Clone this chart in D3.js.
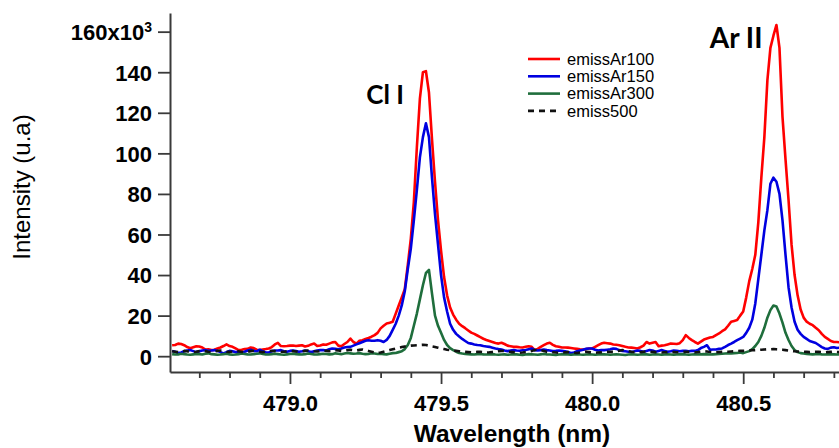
<!DOCTYPE html>
<html>
<head>
<meta charset="utf-8">
<script src="https://cdn.jsdelivr.net/npm/d3@7"></script>
<style>
  html, body { margin: 0; padding: 0; background: #fff; }
  svg { display: block; }
</style>
</head>
<body>
<svg id="chart" width="839" height="448"></svg>
<script>
// Emission spectra around the Cl I 479.45 nm and Ar II 480.60 nm lines.
// Wavelength grid (nm), one sample every 0.01 nm.
const wavelengths = [
  478.61, 478.62, 478.63, 478.64, 478.65, 478.66, 478.67, 478.68, 478.69, 478.70,
  478.71, 478.72, 478.73, 478.74, 478.75, 478.76, 478.77, 478.78, 478.79, 478.80,
  478.81, 478.82, 478.83, 478.84, 478.85, 478.86, 478.87, 478.88, 478.89, 478.90,
  478.91, 478.92, 478.93, 478.94, 478.95, 478.96, 478.97, 478.98, 478.99, 479.00,
  479.01, 479.02, 479.03, 479.04, 479.05, 479.06, 479.07, 479.08, 479.09, 479.10,
  479.11, 479.12, 479.13, 479.14, 479.15, 479.16, 479.17, 479.18, 479.19, 479.20,
  479.21, 479.22, 479.23, 479.24, 479.25, 479.26, 479.27, 479.28, 479.29, 479.30,
  479.31, 479.32, 479.33, 479.34, 479.35, 479.36, 479.37, 479.38, 479.39, 479.40,
  479.41, 479.42, 479.43, 479.44, 479.45, 479.46, 479.47, 479.48, 479.49, 479.50,
  479.51, 479.52, 479.53, 479.54, 479.55, 479.56, 479.57, 479.58, 479.59, 479.60,
  479.61, 479.62, 479.63, 479.64, 479.65, 479.66, 479.67, 479.68, 479.69, 479.70,
  479.71, 479.72, 479.73, 479.74, 479.75, 479.76, 479.77, 479.78, 479.79, 479.80,
  479.81, 479.82, 479.83, 479.84, 479.85, 479.86, 479.87, 479.88, 479.89, 479.90,
  479.91, 479.92, 479.93, 479.94, 479.95, 479.96, 479.97, 479.98, 479.99, 480.00,
  480.01, 480.02, 480.03, 480.04, 480.05, 480.06, 480.07, 480.08, 480.09, 480.10,
  480.11, 480.12, 480.13, 480.14, 480.15, 480.16, 480.17, 480.18, 480.19, 480.20,
  480.21, 480.22, 480.23, 480.24, 480.25, 480.26, 480.27, 480.28, 480.29, 480.30,
  480.31, 480.32, 480.33, 480.34, 480.35, 480.36, 480.37, 480.38, 480.39, 480.40,
  480.41, 480.42, 480.43, 480.44, 480.45, 480.46, 480.47, 480.48, 480.49, 480.50,
  480.51, 480.52, 480.53, 480.54, 480.55, 480.56, 480.57, 480.58, 480.59, 480.60,
  480.61, 480.62, 480.63, 480.64, 480.65, 480.66, 480.67, 480.68, 480.69, 480.70,
  480.71, 480.72, 480.73, 480.74, 480.75, 480.76, 480.77, 480.78, 480.79, 480.80,
  480.81, 480.82
];

// Intensities in thousands of counts (u.a x 10^3).
const emissAr100 = [
  5.4, 5.5, 6.2, 6.0, 5.4, 4.5, 3.9, 4.4, 4.9, 4.8,
  4.3, 3.3, 3.4, 3.0, 3.2, 3.8, 4.3, 5.0, 5.8, 5.0,
  4.6, 3.8, 3.0, 3.2, 3.5, 3.6, 4.3, 4.0, 3.2, 3.0,
  3.3, 3.5, 3.8, 4.5, 5.8, 6.6, 5.0, 4.9, 5.0, 5.2,
  5.3, 5.0, 5.2, 5.4, 4.8, 5.1, 5.8, 6.2, 5.0, 5.3,
  5.8, 5.6, 6.2, 6.8, 7.0, 5.2, 4.9, 6.0, 7.0, 8.7,
  7.0, 6.2, 7.6, 7.9, 8.5, 9.0, 9.6, 10.4, 11.5, 13.7,
  15.0, 16.1, 16.5, 17.0, 21.0, 25.0, 29.0, 33.0, 45.0, 58.0,
  76, 103, 127, 140, 140.5, 130, 107, 86, 67, 52,
  39, 30, 24, 20.5, 18, 16, 14.8, 13.8, 12.7, 11.6,
  11.0, 10.2, 9.4, 8.6, 8.0, 7.5, 7.0, 6.5, 6.2, 6.6,
  6.0, 5.2, 4.9, 4.6, 4.6, 4.4, 4.3, 4.6, 4.9, 4.6,
  3.0, 3.6, 4.6, 5.4, 6.2, 6.6, 5.6, 4.9, 4.6, 4.3,
  4.3, 4.2, 4.0, 3.8, 3.6, 3.4, 3.3, 3.5, 3.8, 3.8,
  4.6, 5.4, 6.2, 6.6, 6.4, 6.2, 5.8, 5.6, 5.4, 5.0,
  4.6, 4.3, 4.2, 4.0, 3.8, 4.4, 5.2, 7.0, 6.2, 6.6,
  7.0, 4.9, 5.2, 5.4, 5.8, 6.2, 6.1, 6.0, 6.4, 7.9,
  10.4, 9.0, 7.9, 7.0, 6.2, 7.2, 8.2, 8.7, 9.2, 9.5,
  10.4, 11.2, 12.3, 13.2, 15.0, 17.0, 17.4, 17.8, 20.0, 22.0,
  29, 37, 43, 50, 66, 88, 108, 136, 152, 158,
  163.3, 152, 118, 97, 77, 55, 40, 30, 23, 19,
  17, 16, 15.3, 14, 12.8, 11, 9.5, 8.5, 7.5, 7,
  7, 6.8
];

const emissAr150 = [
  2.6, 2.2, 1.6, 1.8, 2.4, 2.8, 3.0, 2.5, 2.0, 2.4,
  2.8, 3.0, 2.6, 2.8, 3.0, 2.6, 2.0, 1.4, 2.0, 2.6,
  2.4, 2.0, 2.0, 1.6, 2.2, 2.8, 3.2, 2.6, 2.4, 3.2,
  2.4, 1.8, 1.8, 2.4, 2.8, 2.8, 3.0, 2.4, 2.2, 2.6,
  2.8, 2.5, 2.2, 2.4, 2.8, 2.4, 2.0, 2.4, 2.8, 3.0,
  3.0, 2.8, 3.4, 3.8, 3.6, 3.4, 3.8, 4.3, 4.5, 4.6,
  5.2, 5.8, 6.4, 7.0, 7.6, 7.9, 7.6, 7.6, 7.9, 7.6,
  7.0, 8.0, 10, 13, 16, 20, 25, 32, 43, 53,
  67, 82, 98, 108, 114.8, 108, 88, 70, 55, 40,
  29, 22, 16, 13, 11, 9.7, 8.5, 7.5, 6.5, 6.2,
  5.8, 5.5, 5.4, 5.0, 4.8, 4.6, 4.2, 3.8, 3.5, 3.3,
  2.8, 2.5, 2.8, 3.0, 2.8, 2.7, 2.9, 3.0, 3.4, 3.8,
  3.0, 2.8, 3.0, 3.3, 3.0, 2.8, 2.5, 2.6, 2.8, 2.6,
  2.4, 2.0, 1.6, 1.8, 2.4, 2.8, 3.2, 3.6, 3.8, 3.8,
  3.2, 2.8, 3.0, 3.0, 3.2, 3.4, 3.8, 3.6, 3.0, 2.6,
  2.4, 2.2, 2.1, 2.4, 2.8, 2.6, 2.2, 2.6, 3.0, 2.8,
  2.2, 2.6, 3.0, 2.6, 2.2, 2.4, 2.8, 2.6, 2.4, 2.6,
  2.6, 2.4, 2.6, 2.6, 3.0, 4.0, 4.6, 5.4, 3.2, 3.3,
  3.3, 3.6, 3.8, 4.6, 5.5, 6.2, 7.0, 7.9, 8.7, 9.5,
  11.5, 14, 18, 26, 38, 50, 62, 72, 85, 88,
  86, 80, 67, 50, 34, 24, 17, 13, 11, 9.5,
  8.5, 7.5, 7, 6.5, 5.5, 4.5, 3.8, 3.6, 4.2, 4.4,
  4.0, 4.2
];

const emissAr300 = [
  1.0, 0.8, 0.9, 1.2, 1.0, 0.8, 0.7, 0.9, 1.1, 1.0,
  0.8, 1.2, 1.4, 1.0, 0.9, 0.7, 0.8, 1.0, 1.2, 0.9,
  0.7, 0.8, 1.0, 1.3, 1.1, 0.9, 0.8, 1.0, 1.2, 1.4,
  1.1, 0.9, 0.8, 1.0, 1.2, 1.0, 0.8, 0.7, 0.9, 1.1,
  1.2, 1.0, 0.9, 0.8, 1.0, 1.3, 1.1, 0.9, 0.8, 1.0,
  1.2, 1.1, 0.9, 1.0, 1.4, 1.2, 1.0, 1.3, 1.6, 1.4,
  1.2, 1.3, 1.5, 1.2, 1.0, 1.1, 1.4, 1.3, 1.1, 1.2,
  1.0, 0.9, 1.2, 1.5, 1.6, 2.0, 2.4, 3.5, 5.5, 9.0,
  15, 21, 28, 35, 41, 42.5, 31, 20, 15, 11.5,
  8, 5.5, 4, 3, 2.2, 1.6, 1.3, 1.1, 1.0, 0.9,
  0.8, 1.0, 1.1, 0.9, 0.8, 0.9, 1.0, 0.8, 0.7, 0.8,
  0.9, 0.7, 0.8, 1.0, 0.9, 0.7, 0.6, 0.8, 1.0, 0.9,
  0.8, 0.7, 0.9, 1.1, 0.9, 0.8, 0.7, 0.6, 0.8, 0.9,
  1.0, 0.8, 0.7, 0.9, 1.0, 0.8, 0.7, 0.8, 0.9, 0.8,
  0.7, 0.8, 1.0, 0.9, 0.8, 0.7, 0.8, 0.9, 0.8, 0.7,
  0.6, 0.8, 0.9, 0.8, 0.7, 0.8, 1.0, 0.9, 0.7, 0.8,
  0.9, 0.8, 0.7, 0.8, 0.9, 0.8, 0.7, 0.8, 0.9, 1.0,
  0.8, 0.7, 0.8, 0.9, 0.8, 0.9, 1.0, 0.9, 0.8, 0.9,
  1.0, 1.1, 1.2, 1.3, 1.4, 1.3, 1.5, 1.6, 1.8, 1.5,
  2.0, 2.5, 3.5, 5.0, 7.0, 10, 14, 19, 22.7, 25,
  24.5, 21, 16.5, 11.5, 8, 5, 3, 2, 1.5, 1.3,
  1.1, 1.0, 0.9, 1.0, 1.1, 0.9, 0.8, 0.9, 1.0, 0.9,
  0.8, 0.9
];

const emiss500 = [
  2.4, 2.2, 2.0, 2.3, 2.6, 2.4, 2.1, 2.0, 2.2, 2.5,
  2.7, 2.5, 2.2, 2.0, 2.3, 2.6, 2.8, 2.5, 2.2, 2.1,
  2.3, 2.6, 2.4, 2.1, 2.0, 2.2, 2.5, 2.7, 2.4, 2.2,
  2.0, 2.2, 2.5, 2.7, 2.5, 2.3, 2.1, 2.2, 2.4, 2.6,
  2.5, 2.3, 2.2, 2.4, 2.6, 2.8, 2.6, 2.4, 2.3, 2.5,
  2.7, 2.6, 2.5, 2.8, 3.0, 2.8, 2.6, 2.8, 3.0, 3.2,
  3.0, 2.8, 3.1, 3.3, 3.0, 2.6, 2.2, 1.8, 1.6, 1.8,
  2.2, 2.6, 3.0, 3.4, 3.8, 4.2, 4.5, 4.8, 5.0, 5.2,
  5.3, 5.4, 5.5, 5.6, 5.5, 5.2, 4.8, 4.5, 4.2, 3.8,
  3.5, 3.2, 3.0, 2.8, 2.6, 2.4, 2.2, 2.1, 2.0, 1.9,
  2.0, 2.1, 2.2, 2.0, 1.8, 1.9, 2.1, 2.3, 2.5, 2.6,
  2.5, 2.3, 2.1, 2.0, 1.8, 1.7, 1.8, 2.0, 2.2, 2.6,
  3.0, 3.3, 3.0, 2.6, 2.2, 2.0, 1.9, 1.8, 1.7, 1.8,
  1.9, 2.0, 1.8, 1.7, 1.6, 1.8, 2.0, 2.2, 2.0, 1.8,
  1.7, 1.8, 1.9, 2.0, 2.1, 2.2, 2.1, 2.4, 2.7, 3.0,
  2.8, 2.5, 2.2, 2.0, 1.9, 2.0, 2.2, 2.4, 2.3, 2.1,
  2.0, 1.9, 1.8, 1.9, 2.0, 2.1, 2.0, 1.9, 2.0, 2.1,
  2.2, 2.1, 2.0, 1.9, 2.0, 2.2, 2.4, 2.3, 2.1, 2.0,
  1.9, 2.0, 2.1, 2.2, 2.2, 2.3, 2.4, 2.5, 2.6, 2.6,
  2.7, 2.8, 2.9, 3.0, 3.1, 3.2, 3.3, 3.4, 3.4, 3.5,
  3.4, 3.3, 3.2, 3.0, 2.8, 2.6, 2.4, 2.3, 2.2, 2.2,
  2.1, 2.0, 2.1, 2.2, 2.1, 2.0, 1.9, 2.0, 2.1, 2.2,
  2.1, 2.0
];

const seriesNames = ["emissAr100", "emissAr150", "emissAr300", "emiss500"];
const seriesValues = [emissAr100, emissAr150, emissAr300, emiss500];
const seriesColors = ["#ff0000", "#0000e0", "#1f6e3c", "#111111"];
const seriesDash = [null, null, null, "6,5"];

const yTicks = [0, 20, 40, 60, 80, 100, 120, 140, 160];
const xMajorTicks = [479.0, 479.5, 480.0, 480.5];
const xMinorTicks = [478.7, 478.8, 478.9, 479.1, 479.2, 479.3, 479.4, 479.6, 479.7,
                     479.8, 479.9, 480.1, 480.2, 480.3, 480.4, 480.6, 480.7, 480.8];

const peakLabels = [
  { text: "Cl I", wl: 479.45, value: 140.5 },
  { text: "Ar II", wl: 480.61, value: 163.3 }
];

// ---- layout ----
const svg = d3.select("#chart");
const plot = { left: 170, right: 839, top: 13, bottom: 372 };

const x = d3.scaleLinear().domain([478.603, 480.817]).range([plot.left, plot.right]);
const y = d3.scaleLinear().domain([-7.8, 169.2]).range([plot.bottom, plot.top]);

const axisColor = "#3a3a3a";
const tickFont = "'Liberation Sans', Arial, sans-serif";

svg.append("defs").append("clipPath").attr("id", "plotClip")
  .append("rect")
  .attr("x", plot.left + 1).attr("y", 0)
  .attr("width", plot.right - plot.left).attr("height", plot.bottom - 1);

// ---- spectra ----
const line = d3.line()
  .x((d, i) => x(wavelengths[i]))
  .y(d => y(d));

const lines = svg.append("g").attr("clip-path", "url(#plotClip)");
seriesValues.forEach((vals, k) => {
  lines.append("path")
    .datum(vals)
    .attr("fill", "none")
    .attr("stroke", seriesColors[k])
    .attr("stroke-width", 2.6)
    .attr("stroke-linejoin", "round")
    .attr("stroke-dasharray", seriesDash[k])
    .attr("d", line);
});

// ---- axes ----
const yAxis = d3.axisLeft(y)
  .tickValues(yTicks)
  .tickSize(12)
  .tickSizeOuter(0)
  .tickPadding(6)
  .tickFormat(d => d === 160 ? "160x10" : String(d));

const gy = svg.append("g").attr("transform", `translate(${plot.left},0)`).call(yAxis);
gy.select(".domain").attr("stroke", axisColor).attr("stroke-width", 2);
gy.selectAll(".tick line").attr("stroke", axisColor).attr("stroke-width", 1.8);
gy.selectAll(".tick text")
  .attr("fill", "#000")
  .style("font-family", tickFont)
  .style("font-weight", "bold")
  .style("font-size", "22px")
  .attr("dy", "0.36em");
gy.selectAll(".tick text").filter(d => d === 160)
  .append("tspan")
  .attr("dy", "-0.55em")
  .style("font-size", "14px")
  .text("3");

const xAxis = d3.axisBottom(x)
  .tickValues(xMajorTicks)
  .tickSize(12)
  .tickSizeOuter(0)
  .tickPadding(11)
  .tickFormat(d3.format(".1f"));

const gx = svg.append("g").attr("transform", `translate(0,${plot.bottom})`).call(xAxis);
gx.select(".domain").attr("stroke", axisColor).attr("stroke-width", 2);
gx.selectAll(".tick line").attr("stroke", axisColor).attr("stroke-width", 1.8);
gx.selectAll(".tick text")
  .attr("fill", "#000")
  .style("font-family", tickFont)
  .style("font-weight", "bold")
  .style("font-size", "22px");

const xMinor = d3.axisBottom(x)
  .tickValues(xMinorTicks)
  .tickSize(6)
  .tickSizeOuter(0)
  .tickFormat("");
const gxm = svg.append("g").attr("transform", `translate(0,${plot.bottom})`).call(xMinor);
gxm.select(".domain").remove();
gxm.selectAll(".tick line").attr("stroke", axisColor).attr("stroke-width", 1.8);

// axis titles
svg.append("text")
  .attr("x", 512).attr("y", 442)
  .attr("text-anchor", "middle")
  .style("font-family", tickFont)
  .style("font-weight", "bold")
  .style("font-size", "24.5px")
  .text("Wavelength (nm)");

svg.append("text")
  .attr("transform", "translate(30,187) rotate(-90)")
  .attr("text-anchor", "middle")
  .style("font-family", tickFont)
  .style("font-size", "24px")
  .text("Intensity (u.a)");

// ---- peak annotations ----
svg.append("text")
  .attr("x", x(peakLabels[0].wl) - 22).attr("y", y(peakLabels[0].value) + 33)
  .attr("text-anchor", "end")
  .style("font-family", "Lato, 'Open Sans', sans-serif")
  .style("font-weight", "bold")
  .style("font-size", "26px")
  .text(peakLabels[0].text);

svg.append("text")
  .attr("x", x(peakLabels[1].wl) - 14).attr("y", y(peakLabels[1].value) + 23)
  .attr("text-anchor", "end")
  .style("font-family", "Lato, 'Open Sans', sans-serif")
  .style("font-weight", "bold")
  .style("font-size", "28px")
  .text(peakLabels[1].text);

// ---- legend ----
const legend = svg.append("g").attr("transform", "translate(528,59)");
seriesNames.forEach((name, k) => {
  const row = legend.append("g").attr("transform", `translate(0,${k * 17.3})`);
  row.append("line")
    .attr("x1", 0).attr("x2", 32).attr("y1", 0).attr("y2", 0)
    .attr("stroke", seriesColors[k])
    .attr("stroke-width", 2.6)
    .attr("stroke-dasharray", seriesDash[k]);
  row.append("text")
    .attr("x", 39).attr("y", 0).attr("dy", "0.35em")
    .style("font-family", tickFont)
    .style("font-size", "16.5px")
    .text(name);
});
</script>
</body>
</html>
